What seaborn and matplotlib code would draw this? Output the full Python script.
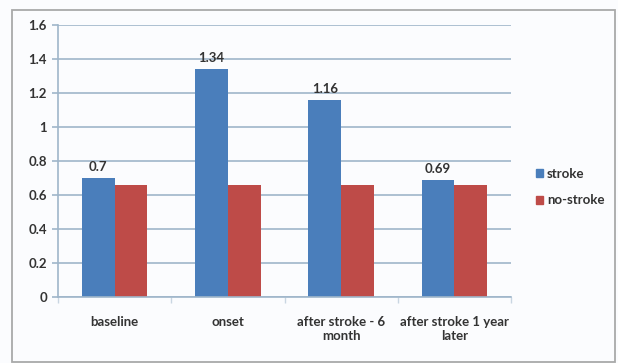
import matplotlib
matplotlib.use("Agg")
import matplotlib.pyplot as plt
import matplotlib.patches as mpatches
import numpy as np
import pandas as pd
import seaborn as sns

# Values per time point
categories = ["baseline", "onset", "after stroke - 6\nmonth", "after stroke 1 year\nlater"]
stroke = [0.70, 1.34, 1.16, 0.69]
no_stroke = [0.66, 0.66, 0.66, 0.66]
stroke_labels = ["0.7", "1.34", "1.16", "0.69"]
series_names = ["stroke", "no-stroke"]
y_ticks = [0, 0.2, 0.4, 0.6, 0.8, 1, 1.2, 1.4, 1.6]
y_tick_labels = ["0", "0.2", "0.4", "0.6", "0.8", "1", "1.2", "1.4", "1.6"]

df = pd.DataFrame({
    "time": categories * 2,
    "value": stroke + no_stroke,
    "group": [series_names[0]] * len(categories) + [series_names[1]] * len(categories),
})

sns.set_theme(style="white")
plt.rcParams["font.family"] = ["Lato", "DejaVu Sans"]

BLUE = "#4a7ebb"
RED = "#be4b48"
GRID = "#9fb6ca"
TEXT = "#333333"
FS = 9.5
FW = "bold"

fig = plt.figure(figsize=(6.18, 3.63), dpi=100)
fig.patch.set_facecolor("#fbfcfe")
ax = fig.add_axes([58 / 618, 1 - 297 / 363, (511 - 58) / 618, (297 - 25) / 363])
ax.set_facecolor("#fbfcfe")

# Outer chart frame
fig.add_artist(mpatches.Rectangle((12 / 618, 1 - 362 / 363), (615 - 12) / 618, (362 - 10) / 363,
                                  transform=fig.transFigure, fill=False,
                                  edgecolor="#a9a9a9", linewidth=1.3))

sns.barplot(data=df, x="time", y="value", hue="group", order=categories,
            hue_order=series_names, palette=[BLUE, RED], width=0.58, gap=0,
            saturation=1, linewidth=0, ax=ax, legend=False)

# Value labels on the stroke bars
for bar, lab in zip(ax.containers[0], stroke_labels):
    ax.annotate(lab, (bar.get_x() + bar.get_width() / 2, bar.get_height()),
                xytext=(0, 3.5), textcoords="offset points", ha="center", va="bottom",
                fontsize=FS, fontweight=FW, color=TEXT)

ax.set_ylim(0, 1.6)
ax.set_xlim(-0.5, len(categories) - 0.5)
ax.set_yticks(y_ticks)
ax.set_yticklabels(y_tick_labels)
ax.yaxis.grid(True, color=GRID, linewidth=1.2)
ax.set_axisbelow(True)
ax.set_xlabel("")
ax.set_ylabel("")

for side in ["top", "right"]:
    ax.spines[side].set_visible(False)
for side in ["left", "bottom"]:
    ax.spines[side].set_color(GRID)
    ax.spines[side].set_linewidth(1.2)

ax.tick_params(axis="y", length=4, color=GRID, width=1.2, pad=4,
               labelsize=FS, labelcolor=TEXT, left=True)
for t in ax.get_yticklabels():
    t.set_fontweight(FW)

# Category labels centred under groups, tick marks on group boundaries
ax.set_xticks(range(len(categories)))
ax.set_xticklabels(categories, fontsize=FS, fontweight=FW, color=TEXT,
                   linespacing=1.15)
ax.tick_params(axis="x", length=0, pad=14)
ax.set_xticks(np.arange(-0.5, len(categories)), minor=True)
ax.tick_params(axis="x", which="minor", length=4, color="#c9d6e2", width=1.0, bottom=True)

# Legend
handles = [mpatches.Patch(color=BLUE, label=series_names[0]),
           mpatches.Patch(color=RED, label=series_names[1])]
leg = fig.legend(handles=handles, loc="center left", bbox_to_anchor=(524 / 618, 1 - 187 / 363),
                 frameon=False, handlelength=0.55, handleheight=0.55, handletextpad=0.3,
                 labelspacing=1.1, prop={"size": FS, "weight": FW})
for t in leg.get_texts():
    t.set_color(TEXT)

fig.savefig("out.png", dpi=100, facecolor=fig.get_facecolor())
